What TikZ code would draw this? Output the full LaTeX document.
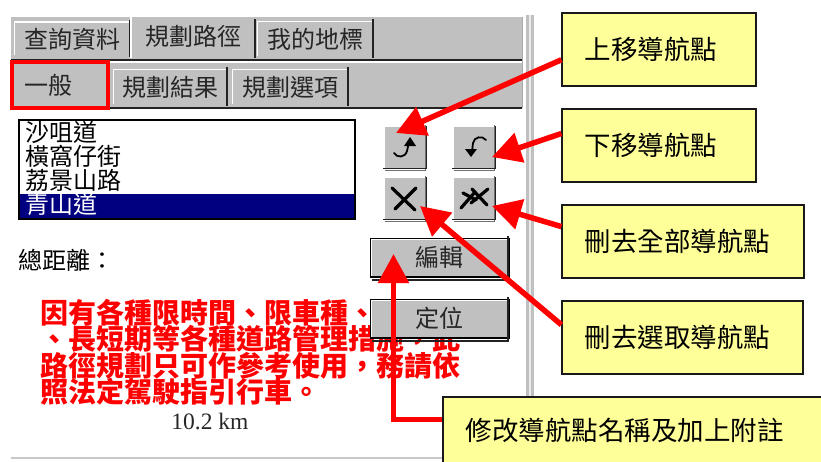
\documentclass[tikz,border=0pt]{standalone}
\usepackage{fontspec}
\setmainfont{Noto Sans CJK TC}
\newfontfamily\latinserif{Liberation Serif}
\usetikzlibrary{arrows.meta}
\definecolor{panelgrey}{HTML}{C0C0C0}
\definecolor{noteyellow}{HTML}{FFFF99}
\definecolor{listnavy}{HTML}{000080}
\definecolor{alarmred}{HTML}{FF0000}
\definecolor{edgedark}{HTML}{222222}
\definecolor{edgegrey}{HTML}{707070}
\newcommand{\uisize}{\fontsize{24}{24}\selectfont}
\newcommand{\warnfont}{\fontsize{28}{26.3}\selectfont\bfseries\setlength{\lineskiplimit}{-30pt}}
\newcommand{\bevel}[1]{%
  \draw[white,line width=1.6pt] ([shift={(1,1)}]#1.south west) |- ([shift={(-1,-1)}]#1.north east);
  \draw[edgegrey,line width=1.2pt] ([shift={(1.5,1.5)}]#1.south west) -| ([shift={(-1.5,-1.5)}]#1.north east);
  \draw[edgedark,line width=1.4pt] (#1.south west) -| (#1.north east);}
\newcommand{\tabshape}[1]{%
  \draw[white,line width=1.6pt] ([shift={(1,0)}]#1.south west) |- ([shift={(-2,-1)}]#1.north east);
  \draw[edgedark,line width=1.8pt] ([shift={(-1,-3)}]#1.north east) -- ([shift={(-1,2)}]#1.south east);}
\tikzset{
  x=1pt,y=-1pt,
  panel/.style={fill=panelgrey,draw=none,inner sep=0pt},
  tabtext/.style={font=\uisize,text=black!85,inner sep=0pt},
  tabbox/.style={fill=panelgrey,draw=none,inner sep=0pt,font=\uisize,text=black!85},
  toolbtn/.style={fill=panelgrey,draw=none,inner sep=0pt,minimum width=43pt,minimum height=42pt},
  cmdbtn/.style={fill=panelgrey,draw=black,line width=2pt,inner sep=0pt,minimum width=138pt,minimum height=38pt,font=\uisize,text=black!85},
  listrow/.style={font=\uisize,anchor=west,inner sep=0pt},
  callout/.style={fill=noteyellow,draw=black!90,line width=1.2pt,inner ysep=0pt,inner xsep=22.5pt,align=left,
    font=\fontsize{26.5}{28}\selectfont,minimum height=73pt},
  pointer/.style={draw=alarmred,line width=5.5pt,line join=miter,
    -{Triangle[length=29pt,width=30pt,fill=alarmred]}},
  glyph/.style={draw=black,line width=1.8pt,line cap=round},
  crossmark/.style={draw=black,line width=3.2pt,line cap=round}
}
\begin{document}
\begin{tikzpicture}
\useasboundingbox (0,0) rectangle (821,461);
\clip (0,0) rectangle (821,461);
\fill[white] (0,0) rectangle (821,461);

% panel rows
\fill[panelgrey] (11,17) rectangle (522,108);
\draw[edgedark,line width=1.6pt] (11,60) -- (522,60);
\draw[white,line width=1.2pt] (11,62) -- (522,62);
\draw[edgedark,line width=1.6pt] (11,108) -- (522,108);
\draw[edgegrey!60,line width=1pt] (522,17) -- (522,108);

% side bar and bottom rule
\fill[panelgrey] (526,15) rectangle (534,397);
\fill[black!8] (529,15) rectangle (531,397);
\draw[black!22,line width=2.5pt] (11,458) -- (443,458);

% first tab row
\node[tabbox,minimum width=117pt,minimum height=32pt] (tabA) at (72,39) {查詢資料};
\tabshape{tabA}
\node[tabbox,minimum width=124pt,minimum height=41pt] (tabB) at (193,37) {\raisebox{3pt}{規劃路徑}};
\draw[white,line width=1.6pt] (tabB.south west) -- ([shift={(0,0)}]tabB.north west) -- ([shift={(-3,0)}]tabB.north east);
\draw[edgedark,line width=1.8pt] ([shift={(0,3)}]tabB.north east) -- (tabB.south east);
\node[tabbox,minimum width=117pt,minimum height=33pt] (tabC) at (315,39) {我的地標};
\tabshape{tabC}

% second tab row
\node[tabbox,minimum width=96pt,minimum height=46pt] (subA) at (60,85) {\hspace*{-24pt}一般};
\draw[white,line width=1.6pt] (subA.south west) |- (subA.north east);
\node[tabbox,minimum width=115pt,minimum height=33pt] (subB) at (170,87) {規劃結果};
\tabshape{subB}
\node[tabbox,minimum width=117pt,minimum height=33pt] (subC) at (290,87) {規劃選項};
\tabshape{subC}
\draw[alarmred,line width=3.6pt,line join=miter] (subA.south west) rectangle (subA.north east);

% list
\node[draw=black,line width=1.4pt,fill=white,minimum width=336pt,minimum height=99pt,inner sep=0pt] (routelist) at (187,169.5) {};
\fill[listnavy] (20,193.5) rectangle (354,218);
\node[listrow] (rowA) at (25,132) {沙咀道};
\node[listrow] (rowB) at (25,156) {橫窩仔街};
\node[listrow] (rowC) at (25,180) {荔景山路};
\node[listrow,text=white] (rowD) at (25,205) {青山道};

% tool buttons
\node[toolbtn] (btnUp) at (405,147.5) {};
\bevel{btnUp}
\node[toolbtn] (btnDown) at (474,147.5) {};
\bevel{btnDown}
\node[toolbtn] (btnDel) at (405,198.5) {};
\bevel{btnDel}
\node[toolbtn] (btnDelAll) at (474,198.5) {};
\bevel{btnDelAll}
% icons
\draw[glyph] (394,153) .. controls (397,158) and (405,158) .. (407,151) -- (409,142);
\fill[black] (410,137) -- (416,146) -- (404,146) -- cycle;
\draw[glyph] (486,140) .. controls (482,135) and (474,137) .. (473,143) -- (472,152);
\fill[black] (471,157) -- (465,149) -- (477,149) -- cycle;
\draw[crossmark] (392,188) -- (415,210);
\draw[crossmark] (416,188) -- (395,209);
\draw[crossmark] (463,193) -- (476,200);
\draw[crossmark] (475,192) -- (461,208);
\draw[crossmark] (472,189) -- (487,205);
\draw[crossmark] (488,189) -- (471,203);

% distance
\node[font=\uisize,anchor=west,inner sep=0pt] (distLabel) at (18,260) {總距離：};

% warning
\node[font=\warnfont,text=alarmred,anchor=north west,align=left,inner sep=0pt] (warning) at (40,299)
  {因有各種限時間、限車種、\\、長短期等各種道路管理措施，此\\路徑規劃只可作參考使用，務請依\\照法定駕駛指引行車。};
\node[font=\latinserif\fontsize{23.5}{24}\selectfont,text=black!85,inner sep=0pt] (distValue) at (210,422) {10.2 km};

% command buttons
\node[cmdbtn] (btnEdit) at (439.5,257.5) {編輯};
\node[cmdbtn] (btnLocate) at (439.5,318.5) {定位};
\draw[white,line width=1.4pt] ([shift={(2,-2)}]btnEdit.south west) |- ([shift={(-2,2)}]btnEdit.north east);
\draw[white,line width=1.4pt] ([shift={(2,-2)}]btnLocate.south west) |- ([shift={(-2,2)}]btnLocate.north east);
\draw[edgedark,line width=2pt] ([shift={(2,2)}]btnEdit.south west) -| ([shift={(-2,-2)}]btnEdit.north east);
\draw[edgedark,line width=2pt] ([shift={(2,2)}]btnLocate.south west) -| ([shift={(-2,-2)}]btnLocate.north east);

% callouts
\node[callout,text width=149pt] (noteUp) at (659,49.5) {上移導航點};
\node[callout,text width=149pt] (noteDown) at (659,145.5) {下移導航點};
\node[callout,text width=197pt] (noteAll) at (683,241.5) {刪去全部導航點};
\node[callout,text width=196pt] (noteSel) at (682.5,337.5) {刪去選取導航點};
\node[callout,text width=349pt,minimum height=66pt] (noteEdit) at (640,430) {修改導航點名稱及加上附註};

% targets
\coordinate (tipUp) at (396,133);
\coordinate (tipDown) at (492,157);
\coordinate (tipAll) at (492,206);
\coordinate (tipSel) at (420,206);
\coordinate (tipEdit) at (393.5,254);

% connectors
\draw[pointer] (noteUp.186) -- (tipUp);
\draw[pointer] (noteDown.173) -- (tipDown);
\draw[pointer] (noteAll.173.6) -- (tipAll);
\draw[pointer] (noteSel.174.5) -- (tipSel);
\draw[pointer] (noteEdit.177.4) -| (tipEdit);
\end{tikzpicture}
\end{document}
